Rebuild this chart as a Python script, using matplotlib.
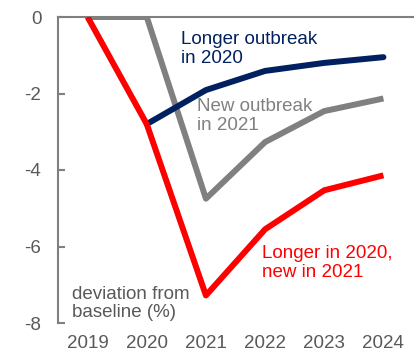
import matplotlib
matplotlib.use("Agg")
import matplotlib.pyplot as plt

plt.rcParams['font.family'] = ['Liberation Sans', 'DejaVu Sans']

years = [2019, 2020, 2021, 2022, 2023, 2024]
longer_2020 = [None, -2.8, -1.91, -1.41, -1.2, -1.05]
new_2021 = [0.0, 0.0, -4.75, -3.27, -2.46, -2.13]
longer_and_new = [0.0, -2.8, -7.28, -5.55, -4.53, -4.14]
yticks = [0, -2, -4, -6, -8]

BLUE = '#002060'
GREY = '#808080'
RED = '#FF0000'
TEXT = '#595959'

fig = plt.figure(figsize=(4.15, 3.53), dpi=100)
ax = fig.add_axes([58/415, 1 - 323/353, (413 - 58)/415, (323 - 17)/353])

bx = [y for y, v in zip(years, longer_2020) if v is not None]
bv = [v for v in longer_2020 if v is not None]
lw = 4.3
ax.plot(bx, bv, color=BLUE, lw=lw, solid_capstyle='round', zorder=3)
ax.plot(years, new_2021, color=GREY, lw=lw, solid_capstyle='butt', zorder=2)
ax.plot(years, longer_and_new, color=RED, lw=lw, solid_capstyle='butt', zorder=4)

ax.set_xlim(2018.5, 2024.5)
ax.set_ylim(-8, 0)
ax.set_xticks(years)
ax.set_xticklabels([str(y) for y in years])
ax.set_yticks(yticks)
ax.set_yticklabels([str(t) for t in yticks])

for side in ['right', 'bottom']:
    ax.spines[side].set_visible(False)
for side in ['left', 'top']:
    ax.spines[side].set_color('#7f7f7f')
    ax.spines[side].set_linewidth(1.5)
    ax.spines[side].set_zorder(1)

fs = 13.5
ax.tick_params(axis='y', direction='in', length=5, width=1.5, color='#7f7f7f',
               labelsize=fs, labelcolor=TEXT, pad=12)
ax.tick_params(axis='x', length=0, labelsize=fs, labelcolor=TEXT, pad=9)

ls = 1.12
ax.text(2020.58, -0.37, 'Longer outbreak\nin 2020', color=BLUE, fontsize=fs,
        va='top', ha='left', linespacing=ls)
ax.text(2020.85, -2.13, 'New outbreak\nin 2021', color=GREY, fontsize=fs,
        va='top', ha='left', linespacing=ls)
ax.text(2021.95, -5.96, 'Longer in 2020,\nnew in 2021', color=RED, fontsize=fs,
        va='top', ha='left', linespacing=ls)
ax.text(2018.74, -7.02, 'deviation from\nbaseline (%)', color=TEXT, fontsize=fs,
        va='top', ha='left', linespacing=ls)

fig.savefig('out.png', dpi=100)
